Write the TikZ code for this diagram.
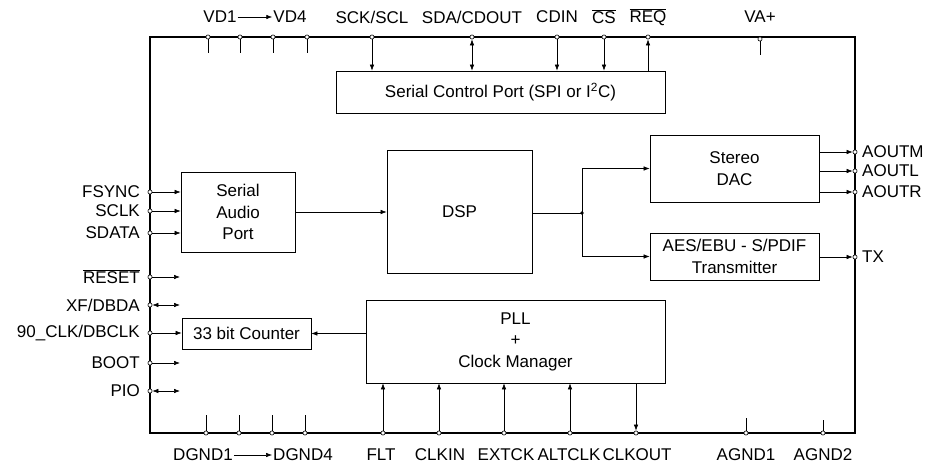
\documentclass[tikz,border=0pt]{standalone}
\usepackage{fontspec}
\setmainfont{Liberation Sans}
\usetikzlibrary{arrows.meta}
\newcommand\labfont{\fontsize{17}{21.5}\selectfont}
\begin{document}
\begin{tikzpicture}[x=1pt,y=-1pt,
  blk/.style={draw,line width=0.7pt,inner sep=0pt,align=center,font=\labfont},
  chipbox/.style={draw,line width=1.6pt,inner sep=0pt},
  pincirc/.style={circle,draw,fill=white,line width=0.6pt,inner sep=0pt,minimum size=4.2pt},
  lab/.style={inner sep=1pt,font=\labfont},
  arr/.style={-{Latex[length=6pt,width=4.5pt]},line width=0.6pt},
  biarr/.style={{Latex[length=6pt,width=4.5pt]}-{Latex[length=6pt,width=4.5pt]},line width=0.6pt},
  wire/.style={line width=0.6pt}]
\useasboundingbox (0,0) rectangle (927,465);
% chip outline
\node[chipbox,minimum width=705pt,minimum height=396pt] (chip) at (502.5,235) {};
% blocks
\node[blk,minimum width=329pt,minimum height=42pt] (scp) at (500.5,92) {Serial Control Port (SPI or I\textsuperscript{2}C)};
\node[blk,minimum width=145pt,minimum height=123pt] (dsp) at (459.5,211.5) {DSP};
\node[blk,minimum width=114pt,minimum height=80pt] (sap) at (238,212) {Serial\\Audio\\Port};
\node[blk,minimum width=169pt,minimum height=67pt] (dac) at (734.5,168.5) {Stereo\\DAC};
\node[blk,minimum width=169pt,minimum height=47pt] (aes) at (734.5,256.5) {AES/EBU - S/PDIF\\Transmitter};
\node[blk,minimum width=299pt,minimum height=83pt] (pll) at (515.5,341.5) {PLL\\+\\Clock Manager};
\node[blk,minimum width=129pt,minimum height=31pt] (cnt) at (246.5,333.5) {33 bit Counter};
% ---- top pins
\foreach \n/\x in {vda/208,vdb/240,vdc/273,vdd/307}{
  \node[pincirc] (\n) at (\x,37) {};
  \coordinate (\n e) at (\x,53);
  \draw[wire] (\n) -- (\n e);
}
\node[pincirc] (psck) at (372,37) {};
\node[pincirc] (psda) at (472,37) {};
\node[pincirc] (pcdin) at (557,37) {};
\node[pincirc] (pcs) at (604,37) {};
\node[pincirc] (preq) at (648,37) {};
\node[pincirc] (pva) at (760,39) {};
\coordinate (pvae) at (760,55);
\draw[wire] (pva) -- (pvae);
\draw[arr] (psck) -- (psck |- scp.north);
\draw[biarr] (psda) -- (psda |- scp.north);
\draw[arr] (pcdin) -- (pcdin |- scp.north);
\draw[arr] (pcs) -- (pcs |- scp.north);
\draw[arr] (scp.north -| preq) -- (preq);
% top labels
\node[lab] (lvd1) at (220,17) {VD1};
\node[lab] (lvd4) at (290,17) {VD4};
\draw[arr] (lvd1) -- (lvd4);
\node[lab] at (372,17) {SCK/SCL};
\node[lab] at (472,17) {SDA/CDOUT};
\node[lab] at (557,17) {CDIN};
\node[lab] at (604,17) {\(\overline{\mbox{CS}}\)};
\node[lab] at (648,17) {\(\overline{\mbox{REQ}}\)};
\node[lab] at (760,17) {VA+};
% ---- left pins
\foreach \n/\y/\t in {pfs/192/FSYNC,psclk/211/SCLK,psdata/233/SDATA}{
  \node[pincirc] (\n) at (150,\y) {};
  \node[lab,anchor=east] at (141,\y) {\t};
  \draw[arr] (\n) -- (\n -| sap.west);
}
\node[pincirc] (prst) at (150,277) {};
\node[pincirc] (pxf) at (150,305) {};
\node[pincirc] (p90) at (150,333) {};
\node[pincirc] (pboot) at (150,363) {};
\node[pincirc] (ppio) at (150,391) {};
\coordinate (erst) at (180,277);
\coordinate (exf) at (180,305);
\coordinate (eboot) at (180,363);
\coordinate (epio) at (180,391);
\draw[arr] (prst) -- (erst);
\draw[biarr] (pxf) -- (exf);
\draw[arr] (p90) -- (p90 -| cnt.west);
\draw[arr] (pboot) -- (eboot);
\draw[biarr] (ppio) -- (epio);
\node[lab,anchor=east] at (141,277) {\(\overline{\mbox{RESET}}\)};
\node[lab,anchor=east] at (141,305) {XF/DBDA};
\node[lab,anchor=east] at (141,333) {90\_CLK/DBCLK};
\node[lab,anchor=east] at (141,363) {BOOT};
\node[lab,anchor=east] at (141,391) {PIO};
% ---- right pins
\foreach \n/\y/\t in {pam/152/AOUTM,pal/171/AOUTL,par/192/AOUTR}{
  \node[pincirc] (\n) at (855,\y) {};
  \node[lab,anchor=west] at (861,\y) {\t};
  \draw[arr] (dac.east |- \n) -- (\n);
}
\node[pincirc] (ptx) at (855,257) {};
\node[lab,anchor=west] at (861,257) {TX};
\draw[arr] (aes.east |- ptx) -- (ptx);
% ---- internal connections
\coordinate (jn) at (582,213);
\draw[arr] (sap.east) -- (sap.east -| dsp.west);
\draw[wire] (dsp.east |- jn) -- (jn);
\fill (jn) circle (1.8pt);
\draw[arr] (jn) |- (dac.west);
\draw[arr] (jn) |- (aes.west);
\draw[arr] (pll.west |- cnt.east) -- (cnt.east);
% ---- bottom pins
\foreach \n/\x in {dga/206,dgb/239,dgc/272,dgd/305}{
  \node[pincirc] (\n) at (\x,433) {};
  \coordinate (\n e) at (\x,415);
  \draw[wire] (\n) -- (\n e);
}
\node[pincirc] (pflt) at (383,433) {};
\node[pincirc] (pclkin) at (439,433) {};
\node[pincirc] (pext) at (504,433) {};
\node[pincirc] (palt) at (570,433) {};
\node[pincirc] (pcko) at (636,433) {};
\node[pincirc] (pag1) at (746,433) {};
\node[pincirc] (pag2) at (823,433) {};
\coordinate (ag1e) at (746,418);
\coordinate (ag2e) at (823,420);
\draw[wire] (pag1) -- (ag1e);
\draw[wire] (pag2) -- (ag2e);
\draw[arr] (pflt) -- (pflt |- pll.south);
\draw[arr] (pclkin) -- (pclkin |- pll.south);
\draw[arr] (pext) -- (pext |- pll.south);
\draw[arr] (palt) -- (palt |- pll.south);
\draw[arr] (pll.south -| pcko) -- (pcko);
% bottom labels
\node[lab] (ldg1) at (203,455) {DGND1};
\node[lab] (ldg4) at (303,455) {DGND4};
\draw[arr] (ldg1) -- (ldg4);
\node[lab] at (381,455) {FLT};
\node[lab] at (440,455) {CLKIN};
\node[lab] at (506,455) {EXTCK};
\node[lab] at (569,455) {ALTCLK};
\node[lab] at (637,455) {CLKOUT};
\node[lab] at (746,455) {AGND1};
\node[lab] at (823,455) {AGND2};
\end{tikzpicture}
\end{document}
